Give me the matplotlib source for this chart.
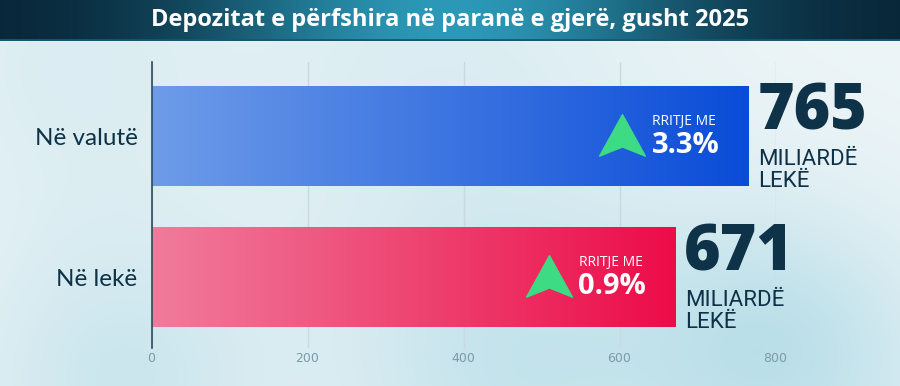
import numpy as np
import matplotlib
matplotlib.use("Agg")
import matplotlib.pyplot as plt
from matplotlib.path import Path

# te dhenat
categories = ["Në lekë", "Në valutë"]
values = [671, 765]
growth = ["0.9%", "3.3%"]
xticks = [0, 200, 400, 600, 800]
title = "Depozitat e përfshira në paranë e gjerë, gusht 2025"

bar_colors = [("#f07c9c", "#ec0c48"), ("#6e9ce9", "#0a4cd8")]
navy = "#0e3247"

fig = plt.figure(figsize=(9, 3.86), dpi=100)

# sfondi
bg = fig.add_axes([0, 0, 1, 1], zorder=-2)
yy, xx = np.mgrid[0:386, 0:900]
base = np.array([0.93, 0.96, 0.97])
blob = np.array([0.72, 0.87, 0.91])
w = np.zeros((386, 900))
for cx, cy, r, a in [(120, 380, 110, 0.6), (520, 370, 130, 0.7), (820, 380, 120, 0.5),
                     (430, 60, 160, 0.3), (60, 60, 120, 0.3), (760, 330, 90, 0.4)]:
    w += a * np.exp(-((xx - cx) ** 2 + (yy - cy) ** 2) / (2 * r ** 2))
w = np.clip(w, 0, 1)
img = base * (1 - w[..., None]) + blob * w[..., None]
bg.imshow(img, aspect="auto", extent=[0, 900, 386, 0])
bg.set_xlim(0, 900)
bg.set_ylim(386, 0)
bg.axis("off")

# shiriti i titullit
hd = fig.add_axes([0, 1 - 41 / 386, 1, 41 / 386], zorder=-1)
t = np.linspace(-1, 1, 900)
g = np.exp(-(t / 0.55) ** 2)
c1 = np.array([0.03, 0.14, 0.21])
c2 = np.array([0.17, 0.60, 0.72])
band = c1 * (1 - g[:, None]) + c2 * g[:, None]
hd.imshow(band[None, :, :], aspect="auto", extent=[0, 1, 0, 1])
hd.axhline(0.03, color="#1a5670", lw=2)
hd.set_xlim(0, 1)
hd.set_ylim(0, 1)
hd.axis("off")
hd.text(0.5, 0.5, title, color="white", fontsize=17, fontweight="bold",
        family=["Open Sans", "DejaVu Sans"], ha="center", va="center")

# grafiku
ax = fig.add_axes([151.5 / 900, 1 - 348 / 386, (775.5 - 151.5) / 900, (348 - 62) / 386])
ax.patch.set_alpha(0)
ax.set_xlim(0, 800)
ax.set_ylim(-0.505, 1.53)
for sp in ["top", "right", "bottom"]:
    ax.spines[sp].set_visible(False)
ax.spines["left"].set_color("#2b4a5a")
ax.spines["left"].set_linewidth(1.2)
ax.set_xticks(xticks)
ax.tick_params(axis="x", length=0, pad=3, labelcolor="#7d9aa7", labelsize=9)
for lab in ax.get_xticklabels():
    lab.set_family(["Liberation Sans Narrow", "DejaVu Sans"])
ax.grid(axis="x", color="#c9d9df", lw=1)
ax.set_axisbelow(True)
ax.set_yticks(range(len(categories)))
ax.set_yticklabels(categories, fontsize=17.5, color=navy, family=["Lato", "DejaVu Sans"])
ax.tick_params(axis="y", length=0, pad=10)

arrow = Path([(0, -1.0), (1.05, 0.9), (0, 0.48), (-1.05, 0.9), (0, -1.0)],
             [Path.MOVETO, Path.LINETO, Path.LINETO, Path.LINETO, Path.CLOSEPOLY])
arrow = Path(arrow.vertices * [1, -1], arrow.codes)

h = 0.705
grad = np.linspace(0, 1, 256)
for i, (v, gr) in enumerate(zip(values, growth)):
    ca = np.array(matplotlib.colors.to_rgb(bar_colors[i][0]))
    cb = np.array(matplotlib.colors.to_rgb(bar_colors[i][1]))
    gimg = ca * (1 - grad[:, None]) + cb * grad[:, None]
    ax.imshow(gimg[None, :, :], aspect="auto", extent=[0, v, i - h / 2, i + h / 2],
              zorder=2)
    ax.plot(v - 162, i, marker=arrow, markersize=33, color="#3ddc84",
            mec="#3ddc84", zorder=3)
    ax.text(v - 123, i + 0.105, "RRITJE ME", color="white", fontsize=10,
            family=["Open Sans", "DejaVu Sans"], va="center", ha="left", zorder=3)
    ax.text(v - 124, i - 0.065, gr, color="white", fontsize=21, fontweight="bold",
            family=["Open Sans", "DejaVu Sans"], va="center", ha="left", zorder=3)
    ax.text(v + 12, i + 0.17, str(v), color=navy, fontsize=45, fontweight="heavy",
            family=["Open Sans", "DejaVu Sans"], va="center", ha="left",
            clip_on=False, zorder=3)
    ax.text(v + 13, i - 0.165, "MILIARDË", color=navy, fontsize=16,
            family=["Roboto", "DejaVu Sans"], va="center", ha="left",
            clip_on=False, zorder=3)
    ax.text(v + 13, i - 0.32, "LEKË", color=navy, fontsize=16,
            family=["Roboto", "DejaVu Sans"], va="center", ha="left",
            clip_on=False, zorder=3)

fig.savefig("out.png", dpi=100)
